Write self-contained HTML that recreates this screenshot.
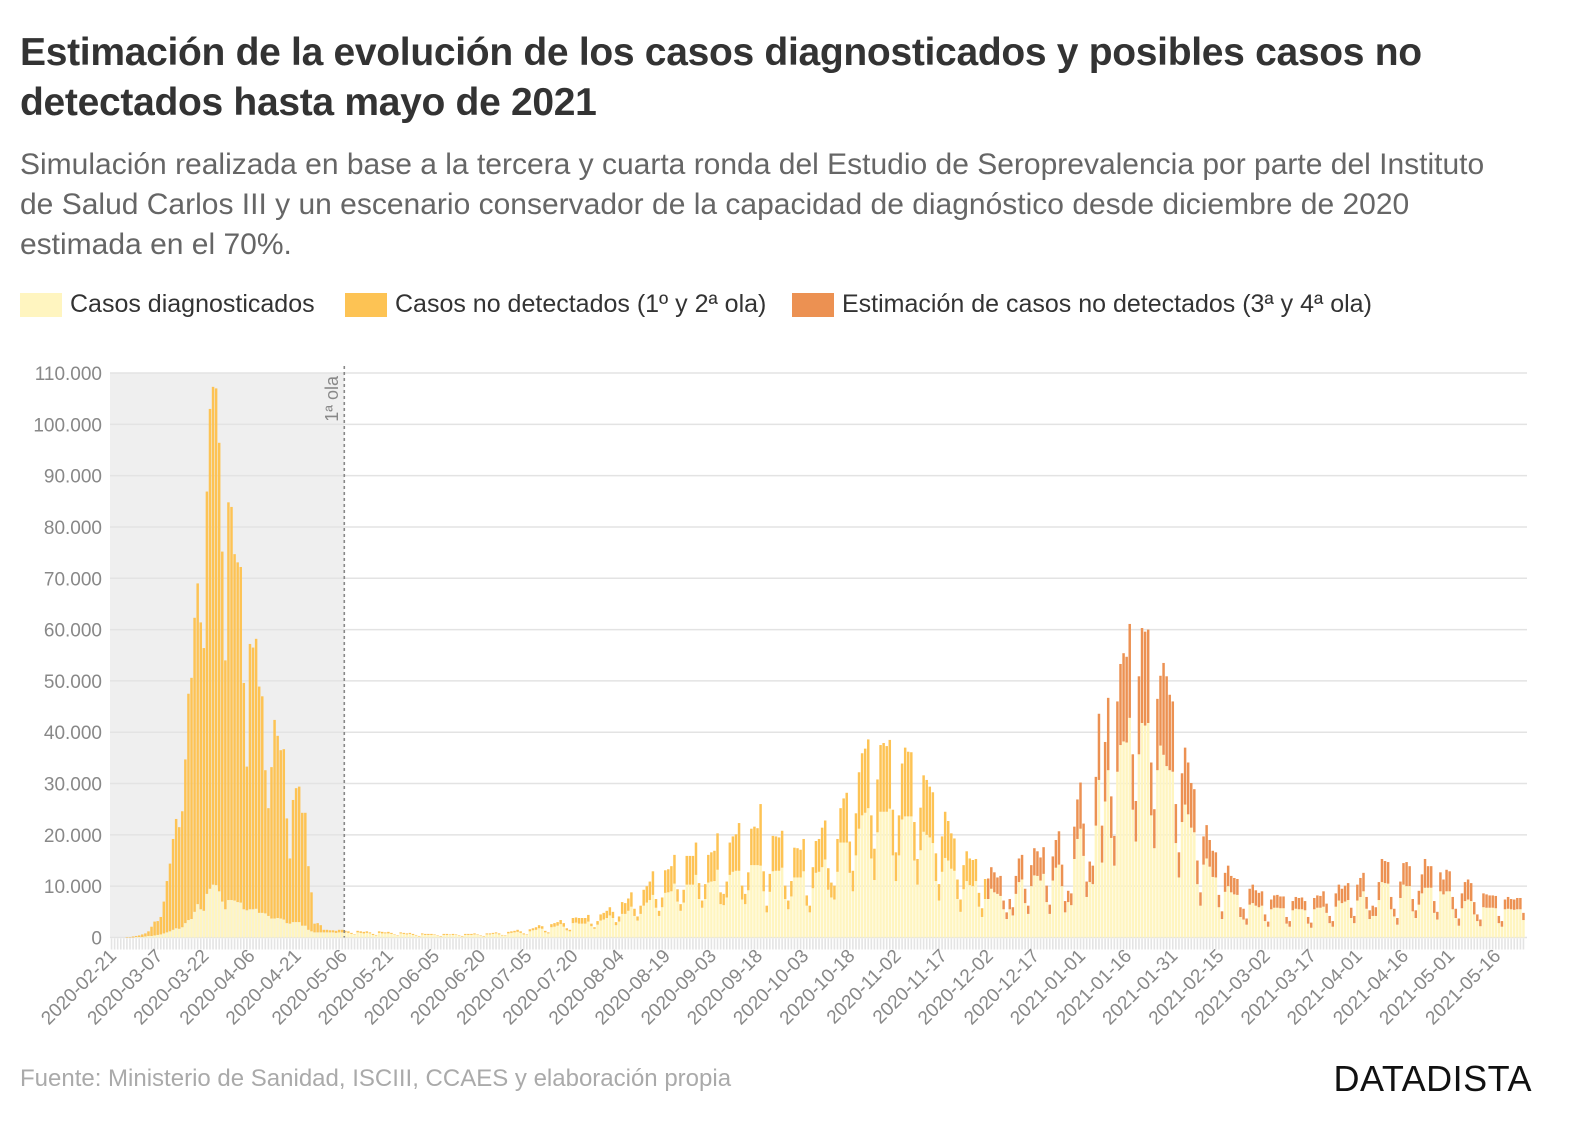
<!DOCTYPE html>
<html><head><meta charset="utf-8">
<style>
body{margin:0;background:#fff;width:1592px;height:1134px;overflow:hidden;font-family:"Liberation Sans",sans-serif;}
.t{position:absolute;left:20px;top:28px;font-size:39px;font-weight:bold;color:#333;line-height:50px;white-space:nowrap;letter-spacing:-0.3px}
.s{position:absolute;left:20px;top:145px;font-size:30px;color:#666;line-height:40px;white-space:nowrap}
.lg{position:absolute;top:290px;font-size:25px;color:#333;white-space:nowrap;display:flex;align-items:center}
.sw{display:inline-block;width:42px;height:24px;margin-right:8px}
.src{position:absolute;left:20px;top:1065px;font-size:24px;color:#aaa}
.logo{position:absolute;right:60px;top:1058px;font-size:36px;color:#111;letter-spacing:0.5px}
</style></head><body>
<div class="t">Estimación de la evolución de los casos diagnosticados y posibles casos no<br>detectados hasta mayo de 2021</div>
<div class="s">Simulación realizada en base a la tercera y cuarta ronda del Estudio de Seroprevalencia por parte del Instituto<br>de Salud Carlos III y un escenario conservador de la capacidad de diagnóstico desde diciembre de 2020<br>estimada en el 70%.</div>
<div class="lg" style="left:20px"><span class="sw" style="background:#fff5c0"></span>Casos diagnosticados</div>
<div class="lg" style="left:345px"><span class="sw" style="background:#fdc354"></span>Casos no detectados (1º y 2ª ola)</div>
<div class="lg" style="left:792px"><span class="sw" style="background:#ec9152"></span>Estimación de casos no detectados (3ª y 4ª ola)</div>
<svg id="chart" width="1592" height="1134" style="position:absolute;left:0;top:0" xmlns="http://www.w3.org/2000/svg"></svg>
<div class="src">Fuente: Ministerio de Sanidad, ISCIII, CCAES y elaboración propia</div>
<div class="logo">DATADISTA</div>
<script>
const startDate = '2020-02-21';
const thirdWaveStartIndex = 285;
const yTicks = [0,10,20,30,40,50,60,70,80,90,100,110];
const totals = [0,0,0,0,0,0.1,0.1,0.2,0.3,0.4,0.6,0.8,1.2,
2.1,3.1,3.2,4.0,7,11,14.4,19.2,23.1,21.5,24.6,34.7,47.5,50.6,62.3,69,61.4,56.4,86.9,103,107.3,107,96.4,75.2,54,84.8,83.9,74.7,73.1,72.2,49.6,33.3,57.2,56.5,58.2,48.9,47,32.6,25.2,33.2,42.4,39.3,36.5,36.7,23.2,15.4,26.8,29.1,29.4,24.3,24.3,13.9,8.8,2.7,2.8,2.4,
1.5,1.5,1.4,1.4,1.3,1.5,1.5,
1.3,1.2,0.9,0.6,1.3,1.2,1.1,1.2,1.0,0.7,0.5,1.2,1.1,1.0,
1.1,0.9,0.6,0.4,1.0,0.9,0.8,0.9,0.7,0.5,0.3,0.8,0.7,0.7,
0.7,0.6,0.4,0.3,0.7,0.7,0.6,0.7,0.6,0.4,0.3,0.7,0.7,0.7,
0.8,0.6,0.4,0.3,0.8,0.8,0.9,1.0,0.8,0.5,0.4,1.1,1.2,1.3,
1.5,1.2,0.8,0.6,1.6,1.8,2.0,2.4,2.2,1.3,1.0,2.6,2.8,3.0,
3.4,2.8,1.8,1.5,3.8,3.9,
3.8,3.8,3.8,4.4,2.7,2.0,3.2,4.5,4.8,5.2,5.9,5.0,3.0,4.1,6.9,6.7,7.6,8.8,5.6,4.1,6.2,9.3,10.0,10.9,12.9,7.5,5.2,7.8,13.1,13.3,13.9,16.1,9.4,6.5,9.3,15.9,15.9,15.9,18.5,10.6,7.2,10.4,16.1,16.6,16.9,20.3,8.8,8.5,10.9,18.5,19.7,20.1,22.3,10.1,8.5,12.7,21.2,21.6,21.3,26.0,12.9,6.2,12.4,19.8,19.7,19.5,20.8,10.1,7.2,11.0,17.5,17.4,17.1,19.2,8.2,6.2,13.7,18.8,19.2,21.4,22.8,13.5,10.7,10.1,19.2,25.2,27.1,28.2,18.7,13.0,24.2,32.2,35.9,36.8,38.6,23.8,17.3,30.8,37.5,37.9,37.3,38.5,24.9,16.6,23.8,33.9,37.0,36.2,36.1,22.5,15.3,25.3,31.6,30.7,29.4,28.3,16.4,10.4,19.7,24.5,22.7,20.3,19.3,11.3,7.4,14.1,16.8,15.4,15.1,15.3,8.7,5.7,11.4,
11.5,13.7,12.7,11.7,12.0,7.2,4.9,7.5,5.9,12.0,15.4,16.1,9.5,6.2,14.1,17.4,16.8,15.6,17.6,10.1,6.4,15.8,19.0,20.7,14.2,7.1,9.1,8.6,21.6,26.9,30.2,22.2,10.9,14.8,14.0,31.3,43.6,21.8,38.1,46.7,27.5,19.8,46.0,53.3,55.4,54.7,61.1,35.7,26.6,50.9,60.3,59.6,60.0,34.1,25.0,46.5,51.0,53.5,50.9,47.3,46.0,26.0,16.6,32.0,37.0,34.1,30.1,28.9,15.0,8.8,19.7,21.9,19.0,16.9,16.6,8.3,5.1,12.6,14.0,12.0,11.6,11.4,5.9,
5.6,3.7,9.5,10.3,9.2,8.7,9.0,4.5,3.1,7.4,8.2,8.3,8.0,8.0,4.0,3.2,7.1,7.9,7.7,7.8,7.1,4.0,2.9,7.7,8.2,8.1,9.0,6.6,4.2,3.2,8.6,10.3,9.5,10.1,10.6,5.8,4.2,10.3,11.6,12.6,7.9,5.3,6.2,5.9,10.8,15.3,14.9,14.7,7.9,5.6,3.8,10.9,14.5,14.7,13.9,7.5,5.3,9.1,12.3,15.3,13.9,13.9,7.1,5.0,12.7,11.3,13.2,12.9,7.9,5.6,3.7,8.6,10.8,11.3,10.6,6.9,4.5,3.5,8.6,8.4,8.2,8.2,8.1,4.2,3.2,7.4,7.9,7.5,7.4,7.7,7.7,4.8];
const diagnosed = [0,0,0,0,0,0,0,0,0.1,0.1,0.1,0.2,0.3,
0.3,0.4,0.5,0.6,0.8,1.0,1.2,1.5,1.8,1.7,2.0,2.8,3.4,3.6,5.0,6.5,5.5,5.2,8.5,9.5,10.3,10.2,9.0,7.0,5.5,7.3,7.3,7.2,6.9,6.8,5.5,5.3,5.5,5.5,5.6,4.8,4.8,4.7,4.2,3.7,3.7,3.8,3.7,3.5,2.8,2.7,3.0,3.0,3.0,2.3,2.3,1.5,1.2,1.0,1.0,1.0,
1.0,1.0,1.0,1.0,0.9,1.0,1.0,
1.0,0.9,0.7,0.5,1.0,0.9,0.8,0.9,0.8,0.5,0.4,0.9,0.8,0.8,
0.8,0.7,0.5,0.3,0.8,0.7,0.6,0.7,0.5,0.4,0.2,0.6,0.5,0.5,
0.5,0.5,0.3,0.2,0.5,0.5,0.5,0.5,0.5,0.3,0.2,0.5,0.5,0.5,
0.6,0.5,0.3,0.2,0.6,0.6,0.7,0.8,0.6,0.4,0.3,0.8,0.9,1.0,
1.1,0.9,0.6,0.5,1.2,1.4,1.5,1.8,1.7,1.0,0.8,2.0,2.1,2.3,
2.6,2.1,1.4,1.2,2.8,2.9,
2.7,2.7,2.7,3.1,2.2,1.7,2.5,3.3,3.5,3.8,4.3,3.8,2.4,3.1,4.6,4.6,5.2,6.0,4.2,3.3,4.6,6.2,6.8,7.3,8.3,5.8,4.2,5.9,8.7,8.8,9.0,10.5,7.0,5.2,6.8,10.3,10.3,10.3,12.2,7.5,5.8,7.5,10.7,10.9,11.0,13.2,6.5,6.3,7.8,12.2,12.8,13.0,13.0,7.4,6.5,9.2,14.1,14.1,14.1,14.0,9.0,4.9,8.9,12.9,13.0,13.0,13.6,7.5,5.5,8.0,11.7,11.7,11.7,12.9,6.2,4.9,9.6,12.6,12.8,13.7,15.2,9.3,7.8,7.4,12.8,18.5,18.5,18.5,12.6,9.0,16.0,21.2,23.8,24.3,25.2,15.4,11.2,20.5,24.5,24.5,24.5,25.1,16.0,11.0,16.0,23.0,23.6,23.6,23.6,15.0,10.3,17.0,20.6,20.0,19.5,18.4,11.0,7.2,12.8,15.5,15.0,13.4,13.0,7.5,5.0,9.4,11.0,10.2,10.0,11.0,6.0,4.0,7.5,
7.5,9.5,8.8,8.5,8.1,5.5,3.6,5.5,4.3,8.5,10.8,11.3,6.7,4.6,10.0,12.1,12.0,11.1,12.4,6.9,4.6,11.1,13.6,14.2,10.0,4.9,6.9,6.3,15.3,19.2,21.2,15.9,7.9,10.8,10.4,21.8,30.7,14.6,26.5,32.6,19.4,14.0,32.3,37.5,38.2,38.0,42.8,24.9,18.7,35.7,41.8,41.3,41.8,23.8,17.4,32.6,37.4,35.6,33.4,32.6,32.3,18.4,11.7,22.5,25.9,24.0,21.4,20.5,10.4,6.2,14.2,15.4,13.8,11.8,11.7,5.9,3.6,8.9,10.0,8.8,8.4,8.3,4.0,
3.5,2.5,6.4,6.7,6.2,5.9,6.2,3.2,2.1,5.5,5.8,5.8,5.7,5.7,2.7,2.1,5.3,5.6,5.5,5.5,5.3,2.7,1.9,5.5,5.8,5.8,6.0,4.8,2.8,2.1,6.0,7.2,6.7,7.0,7.3,3.8,2.8,7.2,7.9,9.0,5.6,3.6,4.2,4.2,7.3,10.8,10.6,10.5,5.5,4.1,2.5,7.7,10.3,10.0,10.0,5.1,3.8,6.4,8.6,9.7,9.7,9.7,4.8,3.5,9.0,8.4,9.0,9.0,5.5,3.8,2.3,5.7,7.1,7.4,7.1,4.5,3.2,2.2,5.9,5.8,5.8,5.8,5.7,2.8,2.1,5.5,5.6,5.5,5.4,5.5,5.5,3.4];

const NS='http://www.w3.org/2000/svg';
const svg=document.getElementById('chart');
const X0=110, X1=1525, Y0=937.5, YTOP=373, VMAX=110;
const N=totals.length, band=(X1-X0)/N;
const xScale=i=>X0+i*band;
const yScale=v=>Y0-(v/VMAX)*(Y0-YTOP);
function mk(tag,attrs){const e=document.createElementNS(NS,tag);for(const k in attrs)e.setAttribute(k,attrs[k]);svg.appendChild(e);return e;}
function dayStr(i){const d=new Date(startDate+'T00:00:00Z');d.setUTCDate(d.getUTCDate()+i);return d.toISOString().slice(0,10);}

const waveEnd=76;
const sh=mk('rect',{x:X0,y:YTOP,width:xScale(waveEnd)-X0+0.5,height:Y0-YTOP,fill:'#efefef'});



yTicks.forEach(t=>{
  const g=mk('line',{x1:X0,x2:1527,y1:yScale(t),y2:yScale(t),stroke:'#e3e3e3','stroke-width':1.5});
  
  
  const lb=mk('text',{x:102,y:yScale(t)+7,'text-anchor':'end','font-size':19,fill:'#888','font-family':'Liberation Sans, sans-serif'});
  lb.textContent=t===0?'0':(t*1000).toLocaleString('de-DE');
  
  
});

for(let i=0;i<N;i++){
  const tk=mk('line',{x1:xScale(i)+band/2,x2:xScale(i)+band/2,y1:Y0+1,y2:Y0+12,stroke:'#e4e4e4','stroke-width':1.6});
  
  
}

for(let i=0;i<N;i++){
  const x=xScale(i)+0.3,w=band-0.6;
  const d=diagnosed[i],t=totals[i];
  if(d>0){
    const r=mk('rect',{x:x,y:yScale(d),width:w,height:Y0-yScale(d),fill:'#fff5c0'});
    
    
  }
  if(t>d){
    const r=mk('rect',{x:x,y:yScale(t),width:w,height:yScale(d)-yScale(t),fill:i>=thirdWaveStartIndex?'#ec9152':'#fdc354'});
    
    
  }
}

const dl=mk('line',{x1:xScale(waveEnd)+0.5,x2:xScale(waveEnd)+0.5,y1:366,y2:Y0,stroke:'#888','stroke-width':1.6,'stroke-dasharray':'3,3'});


const wl=mk('text',{x:0,y:0,'font-size':18,fill:'#888','text-anchor':'end','font-family':'Liberation Sans, sans-serif',transform:`translate(${xScale(waveEnd)-6},376) rotate(-90)`});
wl.textContent='1ª ola';



for(let i=0;i<N;i+=15){
  const cx=xScale(i)+band/2+6;
  const tx=mk('text',{x:0,y:0,'font-size':19,fill:'#888','text-anchor':'end','font-family':'Liberation Sans, sans-serif',transform:`translate(${cx},957) rotate(-45)`});
  tx.textContent=dayStr(i);
  
  
}
</script>
</body></html>
